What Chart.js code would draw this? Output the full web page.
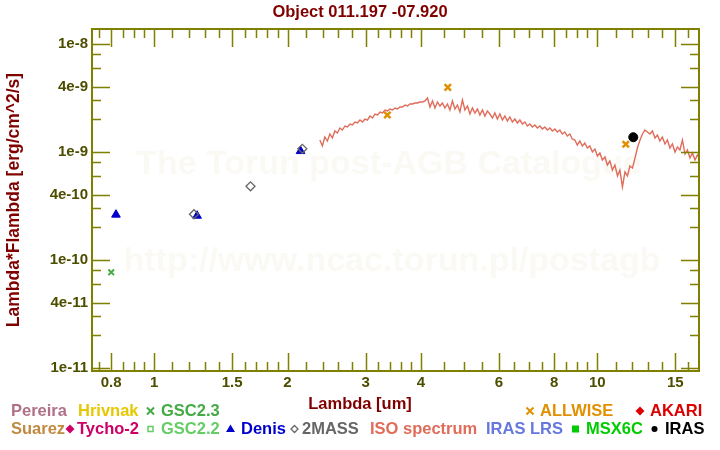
<!DOCTYPE html>
<html>
<head>
<meta charset="utf-8">
<script src="https://cdn.jsdelivr.net/npm/chart.js@4.4.1/dist/chart.umd.min.js"></script>
<style>
  html, body { margin: 0; padding: 0; background: #fff; }
  #wrap { width: 720px; height: 450px; }
</style>
</head>
<body>
<div id="wrap"><canvas id="sed" width="720" height="450"></canvas></div>
<script>
// ---------- data ----------
const TITLE = "Object 011.197 -07.920";
const X_TITLE = "Lambda [um]";
const Y_TITLE = "Lambda*Flambda [erg/cm^2/s]";

const xMin = 0.724, xMax = 16.97;
const yMin = 9.38e-12, yMax = 1.377e-8;

const xTickValues = [0.8, 1, 1.5, 2, 3, 4, 6, 8, 10, 15];
const xTickLabels = ["0.8", "1", "1.5", "2", "3", "4", "6", "8", "10", "15"];
const xMinorTicks = [0.75, 0.85, 0.9, 0.95, 1.1, 1.2, 1.3, 1.4, 1.6, 1.7, 1.8, 1.9,
  2.2, 2.4, 2.6, 2.8, 3.2, 3.4, 3.6, 3.8, 4.5, 5, 5.5, 6.5, 7, 7.5, 8.5, 9, 9.5,
  11, 12, 13, 14, 16];

const yTickValues = [1e-8, 4e-9, 1e-9, 4e-10, 1e-10, 4e-11, 1e-11];
const yTickLabels = ["1e-8", "4e-9", "1e-9", "4e-10", "1e-10", "4e-11", "1e-11"];
const yMinorTicks = [8e-9, 6e-9, 3e-9, 2e-9, 8e-10, 6e-10, 3e-10, 2e-10,
  8e-11, 6e-11, 3e-11, 2e-11];

// photometry (lambda in um, lambda*F_lambda in erg/cm^2/s)
const gsc23Lambda = [0.80];
const gsc23Flux = [7.7e-11];
const denisLambda = [0.82, 1.25, 2.14];
const denisFlux = [2.63e-10, 2.57e-10, 1.02e-9];
const twomassLambda = [1.23, 1.65, 2.16];
const twomassFlux = [2.65e-10, 4.81e-10, 1.07e-9];
const allwiseLambda = [3.36, 4.60, 11.6];
const allwiseFlux = [2.20e-9, 3.97e-9, 1.18e-9];
const irasLambda = [12.06];
const irasFlux = [1.37e-9];

// ISO spectrum, flux in units of 1e-9
const ISO_UNIT = 1e-9;
const isoLambda = [
  2.366, 2.397, 2.428, 2.460, 2.492, 2.525, 2.558, 2.591,
  2.626, 2.660, 2.695, 2.730, 2.766, 2.802, 2.839, 2.876,
  2.914, 2.952, 2.991, 3.030, 3.070, 3.110, 3.151, 3.192,
  3.234, 3.276, 3.319, 3.363, 3.406, 3.451, 3.496, 3.542,
  3.588, 3.635, 3.682, 3.731, 3.779, 3.829, 3.878, 3.929,
  3.980, 4.032, 4.085, 4.139, 4.193, 4.248, 4.303, 4.360,
  4.416, 4.474, 4.532, 4.591, 4.651, 4.712, 4.774, 4.836,
  4.899, 4.963, 5.028, 5.094, 5.160, 5.228, 5.296, 5.365,
  5.435, 5.506, 5.578, 5.651, 5.725, 5.800, 5.875, 5.952,
  6.030, 6.109, 6.188, 6.269, 6.351, 6.434, 6.518, 6.604,
  6.690, 6.777, 6.866, 6.955, 7.046, 7.138, 7.231, 7.326,
  7.422, 7.519, 7.617, 7.716, 7.817, 7.920, 8.023, 8.128,
  8.234, 8.341, 8.450, 8.561, 8.673, 8.786, 8.901, 9.017,
  9.135, 9.255, 9.376, 9.498, 9.623, 9.751, 9.881, 10.01,
  10.14, 10.27, 10.41, 10.54, 10.68, 10.82, 10.96, 11.11,
  11.25, 11.40, 11.55, 11.70, 11.85, 12.01, 12.17, 12.32,
  12.49, 12.65, 12.81, 12.98, 13.15, 13.32, 13.50, 13.67,
  13.85, 14.03, 14.22, 14.40, 14.59, 14.78, 14.98, 15.17,
  15.37, 15.57, 15.78, 15.98, 16.19, 16.40, 16.62, 16.83,
  17.05
];
const isoFlux = [
  1.292, 1.137, 1.377, 1.264, 1.468, 1.348, 1.565, 1.499,
  1.668, 1.598, 1.741, 1.704, 1.817, 1.778, 1.896, 1.856,
  1.978, 1.896, 2.021, 1.978, 2.154, 2.064, 2.248, 2.201,
  2.346, 2.297, 2.448, 2.397, 2.501, 2.448, 2.555, 2.501,
  2.610, 2.610, 2.724, 2.667, 2.783, 2.783, 2.843, 2.843,
  2.904, 2.904, 2.967, 3.162, 2.610, 2.967, 2.555, 2.904,
  2.667, 2.843, 2.555, 2.783, 2.448, 2.967, 2.501, 2.724,
  2.346, 3.030, 2.448, 2.667, 2.248, 2.555, 2.297, 2.501,
  2.201, 2.448, 2.154, 2.397, 2.248, 2.064, 2.297, 2.021,
  2.248, 1.978, 2.154, 1.936, 2.109, 1.896, 2.021, 1.856,
  1.978, 1.817, 1.896, 1.741, 1.817, 1.704, 1.778, 1.668,
  1.741, 1.633, 1.704, 1.598, 1.668, 1.565, 1.633, 1.532,
  1.598, 1.468, 1.532, 1.406, 1.468, 1.319, 1.292, 1.161,
  1.264, 1.137, 1.212, 1.089, 1.137, 1.000, 1.066, 0.918,
  0.979, 0.843, 0.899, 0.758, 0.825, 0.681, 0.758, 0.600,
  0.681, 0.474, 0.653, 0.600, 0.742, 0.711, 0.880, 1.089,
  1.292, 1.468, 1.598, 1.532, 1.468, 1.565, 1.348, 1.437,
  1.264, 1.377, 1.186, 1.292, 1.089, 1.186, 1.000, 1.113,
  1.044, 1.292, 0.958, 1.044, 0.880, 0.979, 0.843, 0.938,
  0.861
];

// ---------- style ----------
const FONT = '"Liberation Sans", Arial, sans-serif';
const AXIS_COLOR = "#808000";
const TICK_TEXT = "#4d4d00";
const TITLE_COLOR = "#800000";

const pts = (xs, ys, k = 1) => xs.map((x, i) => ({ x, y: ys[i] * k }));

// legend layout: text, colour, left x, row centre y, marker
const legendItems = [
  { text: "Pereira", color: "#b07088", x: 11, y: 411 },
  { text: "Hrivnak", color: "#e6c800", x: 78, y: 411 },
  { text: "GSC2.3", color: "#44aa44", x: 161, y: 411, marker: "cross", mx: 150.5 },
  { text: "ALLWISE", color: "#e09000", x: 540, y: 411, marker: "cross", mx: 530 },
  { text: "AKARI", color: "#dd0000", x: 650, y: 411, marker: "diamond", mx: 640 },
  { text: "Suarez", color: "#c08a40", x: 11, y: 429 },
  { text: "Tycho-2", color: "#cc0066", x: 77, y: 429, marker: "diamond", mx: 70 },
  { text: "GSC2.2", color: "#66cc66", x: 161, y: 429, marker: "square", mx: 150.5 },
  { text: "Denis", color: "#0000cc", x: 241, y: 429, marker: "triangle", mx: 230.5 },
  { text: "2MASS", color: "#666666", x: 302, y: 429, marker: "odiamond", mx: 294.5 },
  { text: "ISO spectrum", color: "#e06c5a", x: 370, y: 429 },
  { text: "IRAS LRS", color: "#6677dd", x: 486, y: 429 },
  { text: "MSX6C", color: "#00cc00", x: 586, y: 429, marker: "fsquare", mx: 575.5 },
  { text: "IRAS", color: "#000000", x: 665, y: 429, marker: "dot", mx: 654.5 },
];

function drawMarker(ctx, m, x, y, color) {
  ctx.save();
  ctx.fillStyle = color;
  ctx.strokeStyle = color;
  ctx.lineWidth = 2;
  ctx.beginPath();
  if (m === "cross") {
    ctx.moveTo(x - 3.5, y - 3.5); ctx.lineTo(x + 3.5, y + 3.5);
    ctx.moveTo(x + 3.5, y - 3.5); ctx.lineTo(x - 3.5, y + 3.5);
    ctx.stroke();
  } else if (m === "diamond") {
    ctx.moveTo(x, y - 4.5); ctx.lineTo(x + 4.5, y); ctx.lineTo(x, y + 4.5); ctx.lineTo(x - 4.5, y);
    ctx.closePath(); ctx.fill();
  } else if (m === "odiamond") {
    ctx.lineWidth = 1.3;
    ctx.moveTo(x, y - 3.5); ctx.lineTo(x + 3.5, y); ctx.lineTo(x, y + 3.5); ctx.lineTo(x - 3.5, y);
    ctx.closePath(); ctx.stroke();
  } else if (m === "square") {
    ctx.lineWidth = 1.5;
    ctx.strokeRect(x - 2.5, y - 2.5, 5, 5);
  } else if (m === "fsquare") {
    ctx.fillRect(x - 3.5, y - 3.5, 7, 7);
  } else if (m === "triangle") {
    ctx.moveTo(x, y - 4.5); ctx.lineTo(x + 4.5, y + 3); ctx.lineTo(x - 4.5, y + 3);
    ctx.closePath(); ctx.fill();
  } else if (m === "dot") {
    ctx.arc(x, y, 3, 0, Math.PI * 2); ctx.fill();
  }
  ctx.restore();
}

// ---------- plugins ----------
const watermark = {
  id: "watermark",
  beforeDatasetsDraw(chart) {
    const ctx = chart.ctx;
    ctx.save();
    ctx.font = "bold 34px " + FONT;
    ctx.fillStyle = "#faf9f4";
    ctx.textAlign = "center";
    ctx.textBaseline = "middle";
    ctx.fillText("The Torun post-AGB Catalogue", 389, 165);
    ctx.fillText("http://www.ncac.torun.pl/postagb", 392, 262);
    ctx.restore();
  },
};

const frame = {
  id: "frame",
  afterDraw(chart) {
    const ctx = chart.ctx;
    const { left, right, top, bottom } = chart.chartArea;
    const xs = chart.scales.x, ys = chart.scales.y;
    ctx.save();
    ctx.strokeStyle = AXIS_COLOR;
    ctx.lineWidth = 1.5;
    ctx.beginPath();
    const tickX = (v, len) => {
      const px = Math.round(xs.getPixelForValue(v)) + 0.5;
      ctx.moveTo(px, bottom); ctx.lineTo(px, bottom - len);
      ctx.moveTo(px, top); ctx.lineTo(px, top + len);
    };
    const tickY = (v, len) => {
      const py = Math.round(ys.getPixelForValue(v)) + 0.5;
      ctx.moveTo(left, py); ctx.lineTo(left + len, py);
      ctx.moveTo(right, py); ctx.lineTo(right - len, py);
    };
    xTickValues.forEach((v) => tickX(v, 18));
    xMinorTicks.forEach((v) => tickX(v, 9));
    yTickValues.forEach((v) => tickY(v, 18));
    yMinorTicks.forEach((v) => tickY(v, 9));
    ctx.stroke();
    ctx.lineWidth = 2;
    ctx.strokeRect(left, top, right - left, bottom - top);

    // titles
    ctx.fillStyle = TITLE_COLOR;
    ctx.textAlign = "center";
    ctx.textBaseline = "middle";
    ctx.font = "bold 16.5px " + FONT;
    ctx.fillText(TITLE, 360, 12);
    ctx.fillText(X_TITLE, 360, 404);
    ctx.save();
    ctx.translate(14, 200);
    ctx.rotate(-Math.PI / 2);
    ctx.font = "bold 17.5px " + FONT;
    ctx.fillText(Y_TITLE, 0, 0);
    ctx.restore();

    // legend
    ctx.textAlign = "left";
    legendItems.forEach((it) => {
      ctx.fillStyle = it.color;
      ctx.fillText(it.text, it.x, it.y);
      if (it.marker) drawMarker(ctx, it.marker, it.mx, it.y, it.color);
    });
    ctx.restore();
  },
};

// ---------- chart ----------
new Chart(document.getElementById("sed").getContext("2d"), {
  type: "scatter",
  data: {
    datasets: [
      {
        label: "ISO spectrum",
        data: pts(isoLambda, isoFlux, ISO_UNIT),
        showLine: true,
        pointRadius: 0,
        borderColor: "#e06c5a",
        borderWidth: 1.4,
      },
      {
        label: "GSC2.3",
        data: pts(gsc23Lambda, gsc23Flux),
        pointStyle: "crossRot",
        pointRadius: 4,
        borderColor: "#44aa44",
        borderWidth: 2,
      },
      {
        label: "2MASS",
        data: pts(twomassLambda, twomassFlux),
        pointStyle: "rectRot",
        pointRadius: 4.5,
        backgroundColor: "rgba(0,0,0,0)",
        borderColor: "#666666",
        borderWidth: 1.3,
      },
      {
        label: "Denis",
        data: pts(denisLambda, denisFlux),
        pointStyle: "triangle",
        pointRadius: 5,
        backgroundColor: "#0000cc",
        borderColor: "#0000cc",
        borderWidth: 1,
      },
      {
        label: "ALLWISE",
        data: pts(allwiseLambda, allwiseFlux),
        pointStyle: "crossRot",
        pointRadius: 4.5,
        borderColor: "#e09000",
        borderWidth: 2.5,
      },
      {
        label: "IRAS",
        data: pts(irasLambda, irasFlux),
        pointStyle: "circle",
        pointRadius: 4.5,
        backgroundColor: "#000000",
        borderColor: "#000000",
      },
    ],
  },
  options: {
    responsive: false,
    animation: false,
    layout: { padding: { top: 29, right: 21, left: 0, bottom: 0 } },
    plugins: {
      legend: { display: false },
      title: { display: false },
      tooltip: { enabled: false },
    },
    scales: {
      x: {
        type: "logarithmic",
        bounds: "data",
        min: xMin,
        max: xMax,
        grid: { display: false, drawTicks: false, tickLength: 0 },
        border: { display: false },
        afterBuildTicks: (s) => { s.ticks = xTickValues.map((v) => ({ value: v })); },
        afterFit: (s) => { s.height = 79; },
        ticks: {
          autoSkip: false,
          maxRotation: 0,
          padding: 3,
          color: TICK_TEXT,
          font: { family: FONT, size: 15, weight: "bold" },
          callback: (v, i) => xTickLabels[i],
        },
      },
      y: {
        type: "logarithmic",
        bounds: "data",
        min: yMin,
        max: yMax,
        grid: { display: false, drawTicks: false, tickLength: 0 },
        border: { display: false },
        afterBuildTicks: (s) => { s.ticks = yTickValues.map((v) => ({ value: v })); },
        afterFit: (s) => { s.width = 92; },
        ticks: {
          autoSkip: false,
          padding: 4,
          color: TICK_TEXT,
          font: { family: FONT, size: 15, weight: "bold" },
          callback: (v, i) => yTickLabels[i],
        },
      },
    },
  },
  plugins: [watermark, frame],
});
</script>
</body>
</html>
